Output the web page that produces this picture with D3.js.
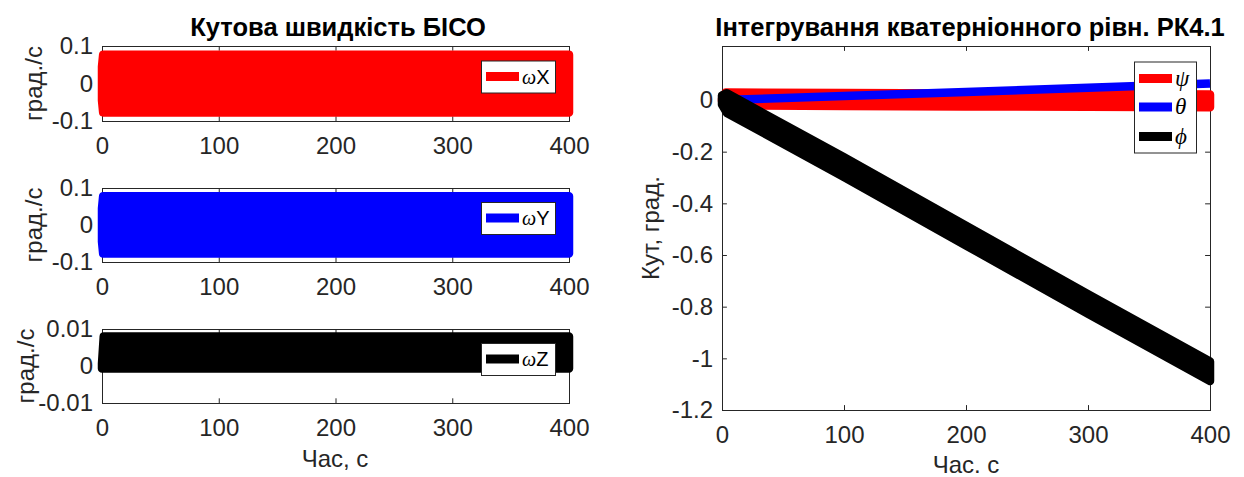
<!DOCTYPE html>
<html><head><meta charset="utf-8">
<script src="https://cdn.jsdelivr.net/npm/d3@7"></script>
<style>
body{margin:0;background:#fff}
svg{display:block}
</style>
</head><body>
<svg id="c" width="1244" height="477"></svg>
<script>
// ---------------- data ----------------
const timeTicks = [0, 100, 200, 300, 400];
const timeTickLabels = ["0", "100", "200", "300", "400"];

// angular rate envelopes (deg/s) – dense oscillation drawn as a band
const timeW  = [0, 1, 100, 200, 300, 400];
const wxUpper = [0.045, 0.077, 0.077, 0.077, 0.077, 0.077];
const wxLower = [-0.045, -0.077, -0.077, -0.077, -0.077, -0.077];
const wyUpper = [0.045, 0.078, 0.078, 0.078, 0.078, 0.078];
const wyLower = [-0.045, -0.077, -0.077, -0.077, -0.077, -0.077];
const timeZ  = [0, 1.5, 100, 200, 300, 400];
const wzUpper = [0.0007, 0.0080, 0.0080, 0.0080, 0.0080, 0.0080];
const wzLower = [-0.0007, -0.0007, -0.0007, -0.0007, -0.0007, -0.0007];

const wTicks = [-0.1, 0, 0.1];
const wTickLabels = ["-0.1", "0", "0.1"];
const wzTicks = [-0.01, 0, 0.01];
const wzTickLabels = ["-0.01", "0", "0.01"];

// attitude angles (deg)
const timePsi = [0, 3, 100, 200, 300, 400];
const psiUpper = [0.004, 0.029, 0.027, 0.025, 0.023, 0.021];
const psiLower = [-0.004, -0.021, -0.023, -0.025, -0.026, -0.028];
const timeTheta = [0, 100, 200, 300, 400];
const thetaVals = [0, 0.015, 0.031, 0.047, 0.064];
const timePhi = [0, 4, 100, 200, 300, 400];
const phiUpper = [0.018, 0.026, -0.222, -0.487, -0.752, -1.012];
const phiLower = [-0.018, -0.050, -0.298, -0.563, -0.828, -1.088];

const angTicks = [-1.2, -1, -0.8, -0.6, -0.4, -0.2, 0];
const angTickLabels = ["-1.2", "-1", "-0.8", "-0.6", "-0.4", "-0.2", "0"];

// ---------------- drawing ----------------
const svg = d3.select("#c");
const FONT = '"Liberation Sans", Arial, Helvetica, sans-serif';
const SERIF = '"Liberation Serif", "DejaVu Serif", serif';
const AX = "#262626";
const LW = 8.5;

function panel(cfg) {
  const x = d3.scaleLinear().domain(cfg.xDomain).range([cfg.x0, cfg.x1]);
  const y = d3.scaleLinear().domain(cfg.yDomain).range([cfg.y1, cfg.y0]);
  const g = svg.append("g").attr("color", AX);
  const tl = cfg.tickLen;
  const style = sel => {
    sel.select(".domain").remove();
    sel.attr("font-family", FONT).attr("font-size", 24);
    sel.selectAll("line").attr("stroke", AX).attr("stroke-width", 1);
    sel.selectAll("text").attr("fill", AX);
  };
  g.append("g").attr("transform", `translate(0,${cfg.y1})`)
    .call(d3.axisBottom(x).tickValues(cfg.xTicks).tickFormat((d, i) => cfg.xTickLabels[i])
      .tickSizeInner(-tl).tickSizeOuter(0).tickPadding(15.5)).call(style);
  g.append("g").attr("transform", `translate(0,${cfg.y0})`)
    .call(d3.axisTop(x).tickValues(cfg.xTicks).tickFormat("")
      .tickSizeInner(-tl).tickSizeOuter(0)).call(style);
  g.append("g").attr("transform", `translate(${cfg.x0},0)`)
    .call(d3.axisLeft(y).tickValues(cfg.yTicks).tickFormat((d, i) => cfg.yTickLabels[i])
      .tickSizeInner(-tl).tickSizeOuter(0).tickPadding(9)).call(style);
  g.append("g").attr("transform", `translate(${cfg.x1},0)`)
    .call(d3.axisRight(y).tickValues(cfg.yTicks).tickFormat("")
      .tickSizeInner(-tl).tickSizeOuter(0)).call(style);
  g.append("rect").attr("x", cfg.x0 + 0.5).attr("y", cfg.y0 + 0.5)
    .attr("width", cfg.x1 - cfg.x0).attr("height", cfg.y1 - cfg.y0)
    .attr("fill", "none").attr("stroke", AX).attr("stroke-width", 1);
  return {x, y, g};
}

function band(p, t, up, lo, color) {
  const pts = t.map((d, i) => ({t: d, u: up[i], l: lo[i]}));
  const area = d3.area().x(d => p.x(d.t)).y0(d => p.y(d.l)).y1(d => p.y(d.u));
  p.g.append("path").attr("d", area(pts))
    .attr("fill", color).attr("stroke", color)
    .attr("stroke-width", LW).attr("stroke-linejoin", "round");
}

function legendBox(x, y, w, h, items) {
  const g = svg.append("g");
  g.append("rect").attr("x", x + 0.5).attr("y", y + 0.5).attr("width", w).attr("height", h)
    .attr("fill", "#fff").attr("stroke", AX).attr("stroke-width", 1);
  items.forEach(it => {
    g.append("line").attr("x1", x + 5).attr("x2", x + 38).attr("y1", y + it.dy).attr("y2", y + it.dy)
      .attr("stroke", it.color).attr("stroke-width", 9);
    const t = g.append("text").attr("x", x + 41).attr("y", y + it.dy + 7)
      .attr("font-size", it.size).attr("fill", "#000");
    it.parts.forEach(pt => {
      t.append("tspan").text(pt.s)
        .attr("font-family", pt.serif ? SERIF : FONT)
        .attr("font-style", pt.serif ? "italic" : "normal");
    });
  });
}

function ylabel(text, cx, cy) {
  svg.append("text").attr("transform", `translate(${cx},${cy}) rotate(-90)`)
    .attr("text-anchor", "middle").attr("font-family", FONT).attr("font-size", 24)
    .attr("fill", AX).text(text);
}
function xlabel(text, cx, cy) {
  svg.append("text").attr("x", cx).attr("y", cy)
    .attr("text-anchor", "middle").attr("font-family", FONT).attr("font-size", 24)
    .attr("fill", AX).text(text);
}
function title(text, cx, cy) {
  svg.append("text").attr("x", cx).attr("y", cy)
    .attr("text-anchor", "middle").attr("font-family", FONT).attr("font-size", 25.5)
    .attr("font-weight", "bold").attr("fill", "#000").text(text);
}

const LX0 = 102, LX1 = 569;
const pX = panel({x0: LX0, x1: LX1, y0: 46, y1: 121, xDomain: [0, 400], yDomain: [-0.1, 0.1],
  xTicks: timeTicks, xTickLabels: timeTickLabels, yTicks: wTicks, yTickLabels: wTickLabels, tickLen: 4.7});
band(pX, timeW, wxUpper, wxLower, "#ff0000");
const pY = panel({x0: LX0, x1: LX1, y0: 188, y1: 262, xDomain: [0, 400], yDomain: [-0.1, 0.1],
  xTicks: timeTicks, xTickLabels: timeTickLabels, yTicks: wTicks, yTickLabels: wTickLabels, tickLen: 4.7});
band(pY, timeW, wyUpper, wyLower, "#0000ff");
const pZ = panel({x0: LX0, x1: LX1, y0: 329, y1: 403, xDomain: [0, 400], yDomain: [-0.01, 0.01],
  xTicks: timeTicks, xTickLabels: timeTickLabels, yTicks: wzTicks, yTickLabels: wzTickLabels, tickLen: 4.7});
band(pZ, timeZ, wzUpper, wzLower, "#000000");

legendBox(481, 60.5, 74, 32, [{dy: 16, color: "#ff0000", size: 20, parts: [{s: "ω", serif: true}, {s: "X"}]}]);
legendBox(481, 202, 74, 32, [{dy: 16, color: "#0000ff", size: 20, parts: [{s: "ω", serif: true}, {s: "Y"}]}]);
legendBox(481, 343, 74, 32, [{dy: 16, color: "#000000", size: 20, parts: [{s: "ω", serif: true}, {s: "Z"}]}]);

title("Кутова швидкість БІСО", 338, 36);
ylabel("град./с", 42, (46 + 121) / 2);
ylabel("град./с", 42, (188 + 262) / 2);
ylabel("град./с", 34, (329 + 403) / 2);
xlabel("Час, с", 335, 467);

// right panel
const pA = panel({x0: 722, x1: 1210, y0: 46, y1: 410, xDomain: [0, 400], yDomain: [-1.2, 0.209],
  xTicks: timeTicks, xTickLabels: timeTickLabels, yTicks: angTicks, yTickLabels: angTickLabels, tickLen: 4.9});
band(pA, timePsi, psiUpper, psiLower, "#ff0000");
pA.g.append("path")
  .attr("d", d3.line().x((d, i) => pA.x(timeTheta[i])).y(d => pA.y(d))(thetaVals))
  .attr("fill", "none").attr("stroke", "#0000ff").attr("stroke-width", LW);
band(pA, timePhi, phiUpper, phiLower, "#000000");

legendBox(1134, 61.5, 62, 91, [
  {dy: 17, color: "#ff0000", size: 23, parts: [{s: "ψ", serif: true}]},
  {dy: 45.5, color: "#0000ff", size: 23, parts: [{s: "θ", serif: true}]},
  {dy: 75, color: "#000000", size: 23, parts: [{s: "ϕ", serif: true}]}
]);

title("Інтегрування кватерніонного рівн. РК4.1", 970, 36);
ylabel("Кут, град.", 659, (46 + 410) / 2);
xlabel("Час. с", 966, 473);
</script>
</body></html>
